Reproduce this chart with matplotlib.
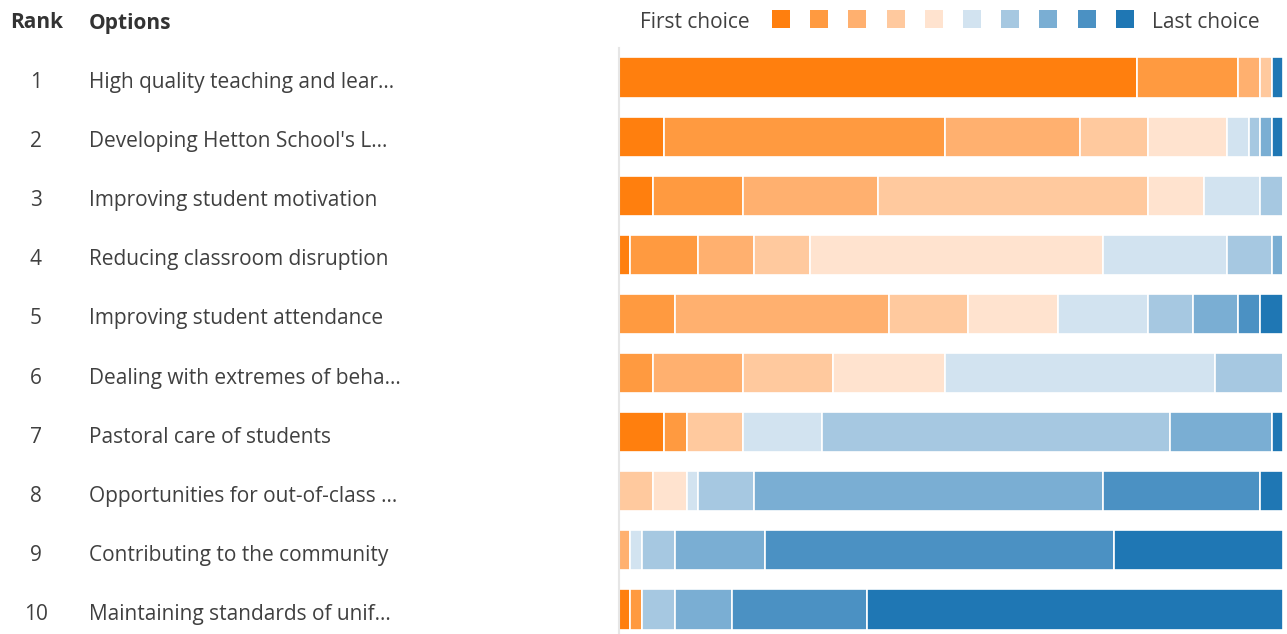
import numpy as np
import matplotlib.pyplot as plt
from matplotlib.patches import Rectangle

plt.rcParams['font.family'] = ['Open Sans', 'DejaVu Sans']

ranks = [1, 2, 3, 4, 5, 6, 7, 8, 9, 10]
options = ["High quality teaching and lear...",
           "Developing Hetton School's L...",
           "Improving student motivation",
           "Reducing classroom disruption",
           "Improving student attendance",
           "Dealing with extremes of beha...",
           "Pastoral care of students",
           "Opportunities for out-of-class ...",
           "Contributing to the community",
           "Maintaining standards of unif..."]

# number of respondents giving each option rank 1 (first choice) .. 10 (last choice)
counts = np.array([
    [46, 9, 2, 1, 0, 0, 0, 0, 0, 1],
    [4, 25, 12, 6, 7, 2, 1, 1, 0, 1],
    [3, 8, 12, 24, 5, 5, 2, 0, 0, 0],
    [1, 6, 5, 5, 26, 11, 4, 1, 0, 0],
    [0, 5, 19, 7, 8, 8, 4, 4, 2, 2],
    [0, 3, 8, 8, 10, 24, 6, 0, 0, 0],
    [4, 2, 0, 5, 0, 7, 31, 9, 0, 1],
    [0, 0, 0, 3, 3, 1, 5, 31, 14, 2],
    [0, 0, 1, 0, 0, 1, 3, 8, 31, 15],
    [1, 1, 0, 0, 0, 0, 3, 5, 12, 37],
])

colors = ['#ff7f0e', '#ff9a40', '#ffb06f', '#ffc99e', '#ffe3cf',
          '#d2e3f0', '#a6c8e1', '#7aaed3', '#4b91c3', '#1f77b4']

W, H = 1287, 634
fig = plt.figure(figsize=(W / 100, H / 100), dpi=100)
ax = fig.add_axes([619 / W, 0, 664 / W, (H - 48) / H])

y = np.arange(len(options))
left = np.zeros(len(options))
for j in range(counts.shape[1]):
    ax.barh(y, counts[:, j], left=left, height=0.68, color=colors[j],
            edgecolor='white', linewidth=1.2)
    left += counts[:, j]

ax.set_xlim(0, counts.sum(axis=1).max())
ax.set_ylim((H - 48) / 59.1 - 0.5, -0.5)
ax.set_xticks([])
ax.set_yticks([])
for s in ['top', 'right', 'bottom']:
    ax.spines[s].set_visible(False)
ax.spines['left'].set_color('#e6e6e6')
ax.spines['left'].set_linewidth(1.5)

# left-hand table
txt = '#404040'
fs = 15
fig.text(10 / W, 1 - 23 / H, 'Rank', fontsize=fs, fontweight='bold', color='#333333', va='center')
fig.text(89 / W, 1 - 23 / H, 'Options', fontsize=fs, fontweight='bold', color='#333333', va='center')
for i, (r, o) in enumerate(zip(ranks, options)):
    yy = (ax.transData.transform((0, i))[1] - 5) / H
    fig.text(36 / W, yy, str(r), fontsize=fs, color=txt, va='center', ha='center')
    fig.text(89 / W, yy, o, fontsize=fs, color=txt, va='center', ha='left')

# colour key
fig.text(640 / W, 1 - 22 / H, 'First choice', fontsize=fs, color=txt, va='center')
fig.text(1152 / W, 1 - 22 / H, 'Last choice', fontsize=fs, color=txt, va='center')
for j, c in enumerate(colors):
    x0 = 772 + j * 38.2
    fig.add_artist(Rectangle((x0 / W, (H - 28) / H), 18 / W, 18 / H,
                             transform=fig.transFigure, facecolor=c, edgecolor='none'))

fig.savefig('out.png', dpi=100)
